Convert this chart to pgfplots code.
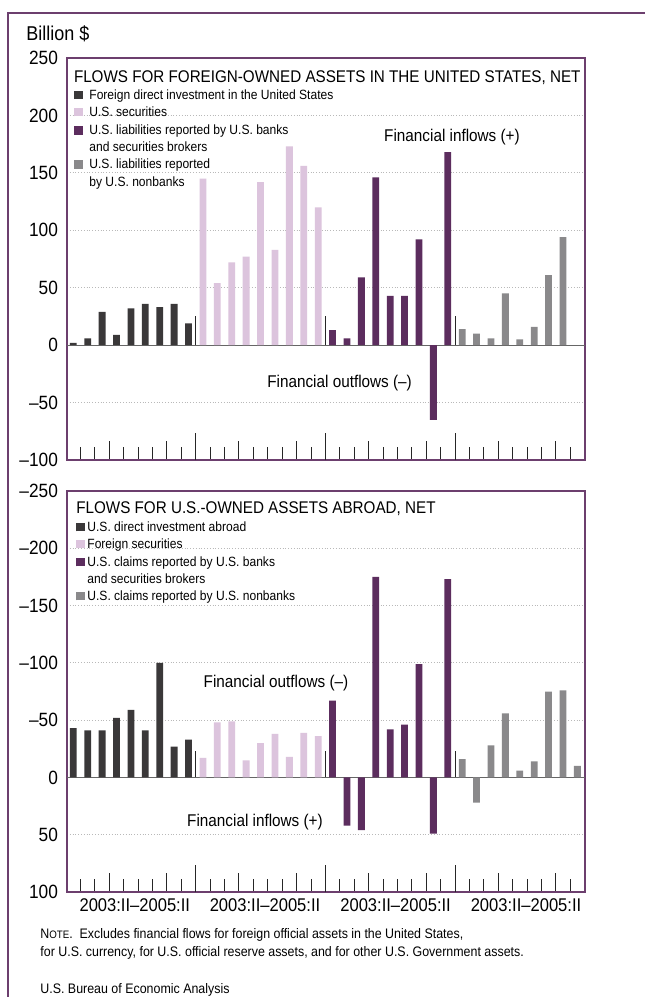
\documentclass[border=0pt]{standalone}
\usepackage{pgfplots}
\pgfplotsset{compat=1.18}
\usepackage{fontspec}
\setmainfont{Liberation Sans}[FakeStretch=0.9]
\definecolor{dk}{HTML}{3A3839}
\definecolor{pk}{HTML}{DCC4DD}
\definecolor{pu}{HTML}{5C2D5E}
\definecolor{gr}{HTML}{8A898B}
\definecolor{bx}{HTML}{6C3F6E}
\newcommand{\fs}[1]{\fontsize{#1}{#1}\selectfont}
\newcommand{\sq}[1]{\textcolor{#1}{\rule{4.3pt}{4.3pt}}}
\pgfplotsset{
  panel/.style={
    scale only axis, width=259pt, height=201pt,
    xmin=-0.44, xmax=35.53,
    axis line style={draw=bx, line width=1.3pt},
    xtick={0.5,1.5,3.5,4.5,5.5,7.5,9.5,10.5,12.5,13.5,14.5,16.5,18.5,19.5,21.5,22.5,23.5,25.5,27.5,28.5,30.5,31.5,32.5,34.5},
    minor xtick={2.5,6.5,11.5,15.5,20.5,24.5,29.5,33.5},
    extra x ticks={8.5,17.5,26.5},
    extra x tick labels={},
    extra x tick style={major tick length=13.5pt, grid=none},
    xticklabels={},
    major tick length=6.5pt, minor tick length=9.5pt,
    tick align=inside,
    xtick style={black!85, line width=0.45pt},
    ytick style={draw=none},
    ymajorgrids, grid style={densely dotted, gray!55, line width=0.5pt},
    yticklabel style={font=\fs{9.6}, xshift=-1pt},
  },
  bars/.style={ybar, bar width=3.4pt, draw=none, fill=#1},
}
\begin{document}
\begin{tikzpicture}
\useasboundingbox (0,0) rectangle (322pt,-498.5pt);
\fill[white] (0,0) rectangle (322pt,-498.5pt);
\draw[bx, line width=1.1pt] (4pt,-499pt) -- (4pt,-6.5pt) -- (323pt,-6.5pt);
\node[anchor=base west, font=\fs{10}, inner sep=0pt] at (13pt,-20.1pt) {Billion \$};

% ---------- top panel ----------
\begin{axis}[panel, at={(33.5pt,-29pt)}, anchor=north west,
  ymin=-100, ymax=250, xtick pos=left,
  ytick={-100,-50,0,50,100,150,200,250},
  yticklabels={–100,–50,0,50,100,150,200,250}]
\addplot[gray!80!black, line width=0.5pt] coordinates {(-0.44,0) (35.53,0)};
\addplot[bars=dk] coordinates {(0,2) (1,6) (2,29) (3,9) (4,32) (5,36) (6,33) (7,36) (8,19)};
\addplot[bars=pk] coordinates {(9,145) (10,54) (11,72) (12,77) (13,142) (14,83) (15,173) (16,156) (17,120)};
\addplot[bars=pu] coordinates {(18,13) (19,6) (20,59) (21,146) (22,43) (23,43) (24,92) (25,-65) (26,168)};
\addplot[bars=gr] coordinates {(27,14) (28,10) (29,6) (30,45) (31,5) (32,16) (33,61) (34,94)};
\addplot[ycomb, black!85, line width=0.45pt, no marks] coordinates {(8.5,25) (17.5,25) (26.5,25)};
\end{axis}

\node[anchor=base west, font=\fs{8.45}, inner sep=0pt] at (36.8pt,-41.1pt) {FLOWS FOR FOREIGN-OWNED ASSETS IN THE UNITED STATES, NET};
\begin{scope}[every node/.style={anchor=base west, font=\fs{6.7}, inner sep=0pt}]
\node at (37pt,-49.6pt) {\sq{dk}};
\node at (44.5pt,-49.6pt) {Foreign direct investment in the United States};
\node at (37pt,-58.2pt) {\sq{pk}};
\node at (44.5pt,-58.2pt) {U.S. securities};
\node at (37pt,-67.4pt) {\sq{pu}};
\node at (44.5pt,-67.4pt) {U.S. liabilities reported by U.S. banks};
\node at (44.5pt,-75.7pt) {and securities brokers};
\node at (37pt,-84.4pt) {\sq{gr}};
\node at (44.5pt,-84.4pt) {U.S. liabilities reported};
\node at (44.5pt,-93.2pt) {by U.S. nonbanks};
\end{scope}
\node[anchor=base, font=\fs{8.5}, inner sep=0pt] at (226pt,-70.5pt) {Financial inflows (+)};
\node[anchor=base, font=\fs{8.5}, inner sep=0pt] at (169.8pt,-193.8pt) {Financial outflows (–)};

% ---------- bottom panel ----------
\begin{axis}[panel, at={(33.5pt,-245.5pt)}, anchor=north west, height=200.5pt,
  ymin=-250, ymax=100, y dir=reverse, xtick pos=left,
  ytick={-250,-200,-150,-100,-50,0,50,100},
  yticklabels={–250,–200,–150,–100,–50,0,50,100}]
\addplot[gray!80!black, line width=0.5pt] coordinates {(-0.44,0) (35.53,0)};
\addplot[bars=dk] coordinates {(0,-43) (1,-41) (2,-41) (3,-52) (4,-59) (5,-41) (6,-100) (7,-27) (8,-33)};
\addplot[bars=pk] coordinates {(9,-17) (10,-48) (11,-49) (12,-15) (13,-30) (14,-38) (15,-18) (16,-39) (17,-36)};
\addplot[bars=pu] coordinates {(18,-67) (19,42) (20,46) (21,-175) (22,-42) (23,-46) (24,-99) (25,49) (26,-173)};
\addplot[bars=gr] coordinates {(27,-16) (28,22) (29,-28) (30,-56) (31,-6) (32,-14) (33,-75) (34,-76) (35,-10)};
\addplot[ycomb, black!85, line width=0.45pt, no marks] coordinates {(8.5,-23) (17.5,-23) (26.5,-23)};
\end{axis}

\node[anchor=base west, font=\fs{8.45}, inner sep=0pt] at (38pt,-256.8pt) {FLOWS FOR U.S.-OWNED ASSETS ABROAD, NET};
\begin{scope}[every node/.style={anchor=base west, font=\fs{6.7}, inner sep=0pt}]
\node at (38pt,-265.7pt) {\sq{dk}};
\node at (43.5pt,-265.7pt) {U.S. direct investment abroad};
\node at (38pt,-274.1pt) {\sq{pk}};
\node at (43.5pt,-274.1pt) {Foreign securities};
\node at (38pt,-283.2pt) {\sq{pu}};
\node at (43.5pt,-283.2pt) {U.S. claims reported by U.S. banks};
\node at (43.5pt,-291.6pt) {and securities brokers};
\node at (38pt,-300.2pt) {\sq{gr}};
\node at (43.5pt,-300.2pt) {U.S. claims reported by U.S. nonbanks};
\end{scope}
\node[anchor=base, font=\fs{8.5}, inner sep=0pt] at (138pt,-343.8pt) {Financial outflows (–)};
\node[anchor=base, font=\fs{8.5}, inner sep=0pt] at (127.5pt,-413pt) {Financial inflows (+)};

\begin{scope}[every node/.style={anchor=base, font=\fs{9.2}, inner sep=0pt}]
\node at (67.4pt,-455.8pt) {2003:II–2005:II};
\node at (132.5pt,-455.8pt) {2003:II–2005:II};
\node at (197.8pt,-455.8pt) {2003:II–2005:II};
\node at (263pt,-455.8pt) {2003:II–2005:II};
\end{scope}

\begin{scope}[every node/.style={anchor=base west, font=\fs{6.9}, inner sep=0pt}]
\node at (20pt,-469.2pt) {N{\fs{5.4}OTE}.\ \ Excludes financial flows for foreign official assets in the United States,};
\node at (20pt,-478.3pt) {for U.S. currency, for U.S. official reserve assets, and for other U.S. Government assets.};
\node at (20pt,-496.8pt) {U.S. Bureau of Economic Analysis};
\end{scope}
\end{tikzpicture}
\end{document}
